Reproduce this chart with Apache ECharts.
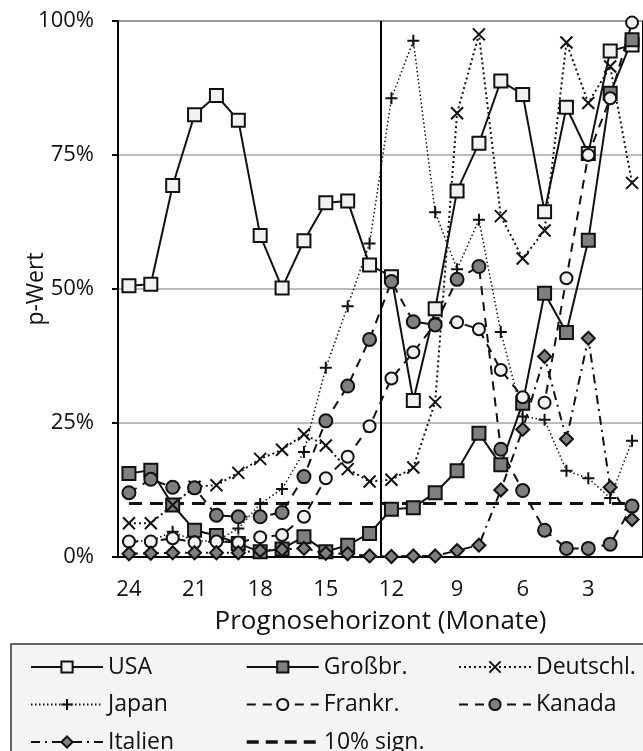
<!DOCTYPE html>
<html>
<head>
<meta charset="utf-8">
<script src="https://cdn.jsdelivr.net/npm/echarts@6/dist/echarts.min.js"></script>
<style>
  html, body { margin: 0; padding: 0; background: #fff; }
  #chart { width: 643px; height: 751px; }
</style>
</head>
<body>
<div id="chart"></div>
<script>
// forecast horizon in months, left to right
var horizons = ['24','23','22','21','20','19','18','17','16','15','14','13',
                '12','11','10','9','8','7','6','5','4','3','2','1'];

// p-values in %
var usa      = [50.6, 50.9, 69.3, 82.5, 86.1, 81.5, 60.0, 50.2, 59.0, 66.1, 66.4, 54.5,
                52.3, 29.2, 46.3, 68.3, 77.2, 88.8, 86.3, 64.4, 83.9, 75.3, 94.4, 95.5];
var grossbr  = [15.6, 16.2, 9.7, 5.0, 4.0, 2.5, 1.0, 1.5, 3.8, 1.0, 2.2, 4.4,
                8.9, 9.2, 12.0, 16.1, 23.1, 17.2, 28.7, 49.2, 41.9, 59.1, 86.5, 96.5];
var deutschl = [6.3, 6.3, 9.7, 13.1, 13.4, 15.7, 18.3, 20.0, 22.9, 20.8, 16.4, 14.1,
                14.4, 16.7, 28.9, 82.8, 97.5, 63.6, 55.7, 60.9, 96.0, 84.7, 91.5, 69.8];
var japan    = [3.0, 3.0, 4.7, 3.0, 3.0, 5.3, 9.9, 12.7, 19.6, 35.3, 46.8, 58.5,
                85.6, 96.3, 64.3, 53.7, 62.9, 42.0, 26.2, 25.6, 16.1, 14.7, 11.0, 21.7];
var frankr   = [2.9, 2.9, 3.5, 2.7, 2.9, 2.7, 3.7, 4.1, 7.5, 14.7, 18.7, 24.4,
                33.3, 38.2, 43.5, 43.8, 42.5, 34.9, 29.8, 28.8, 52.0, 75.0, 85.6, 99.7];
var kanada   = [12.0, 14.5, 13.0, 12.9, 7.8, 7.5, 7.5, 8.3, 15.0, 25.4, 31.9, 40.6,
                51.4, 43.9, 43.3, 51.8, 54.2, 20.1, 12.4, 5.0, 1.6, 1.6, 2.4, 9.5];
var italien  = [0.6, 0.7, 0.8, 0.8, 0.8, 0.8, 1.2, 1.4, 1.6, 0.7, 0.6, 0.2,
                0.1, 0.2, 0.2, 1.2, 2.2, 12.5, 23.8, 37.4, 22.0, 40.8, 13.0, 7.0];
var sign10   = horizons.map(function () { return 10; });

var yTicks = [0, 25, 50, 75, 100];

var FONT = 'Open Sans';
var WHITE = '#f2f2f2', GREY = '#7f7f7f', INK = '#111';
var CROSS = 'path://M0,0L10,10M10,0L0,10';
var PLUS = 'path://M5,0L5,10M0,5L10,5';

function line(name, data, opt) {
    var item;
    if (opt.stroke) item = { color: 'transparent', borderColor: INK, borderWidth: 2 };
    else if (opt.fill) item = { color: opt.fill, borderColor: INK, borderWidth: 2 };
    else item = { color: 'transparent', borderColor: 'transparent', borderWidth: 0 }; // no marker, also in legend
    return {
        name: name,
        type: 'line',
        data: data,
        symbol: opt.symbol,
        symbolSize: opt.size,
        showSymbol: opt.symbol !== 'none',
        animation: false,
        lineStyle: { color: INK, width: opt.width || 2, type: opt.dash || 'solid' },
        itemStyle: item,
        emphasis: { disabled: true }
    };
}

var myChart = echarts.init(document.getElementById('chart'));
myChart.setOption({
    textStyle: { fontFamily: FONT },
    grid: { left: 118, top: 21, width: 533, bottom: 194, show: true, borderColor: '#444', borderWidth: 1.5 },
    xAxis: {
        type: 'category',
        data: horizons,
        boundaryGap: true,
        name: 'Prognosehorizont (Monate)',
        nameLocation: 'middle',
        nameGap: 52,
        nameMoveOverlap: false,
        nameTextStyle: { fontSize: 26, color: '#111', fontFamily: FONT },
        axisLine: { lineStyle: { color: '#000', width: 2 } },
        axisTick: { interval: 5, length: 6, lineStyle: { color: '#000', width: 2 } },
        axisLabel: { interval: 2, margin: 22, fontSize: 22, color: '#111', fontFamily: FONT },
        splitLine: { show: true, interval: 11, lineStyle: { color: '#000', width: 2 } }
    },
    yAxis: {
        type: 'value',
        min: yTicks[0],
        max: yTicks[yTicks.length - 1],
        interval: 25,
        name: 'p-Wert',
        nameLocation: 'middle',
        nameGap: 70,
        nameMoveOverlap: false,
        nameTextStyle: { fontSize: 23, color: '#111', fontFamily: FONT },
        axisLine: { show: true, lineStyle: { color: '#000', width: 2 } },
        axisTick: { show: true, length: 6, lineStyle: { color: '#000', width: 2 } },
        axisLabel: { margin: 24, fontSize: 22, color: '#111', fontFamily: FONT, formatter: '{value}%' },
        splitLine: { lineStyle: { color: '#a6a6a6', width: 1.5 } }
    },
    legend: [
        { data: ['USA', 'Japan', 'Italien'], left: 25 },
        { data: ['Großbr.', 'Frankr.', { name: '10% sign.', lineStyle: { width: 3.5, type: [12, 7] } }], left: 240 },
        { data: ['Deutschl.', 'Kanada'], left: 453 }
    ].map(function (l) {
        return {
            data: l.data, left: l.left, top: 650, height: 200, orient: 'vertical',
            itemWidth: 72, itemHeight: 14, itemGap: 13.5, selectedMode: false,
            textStyle: { fontSize: 23, color: '#111', fontFamily: FONT, lineHeight: 24 }
        };
    }),
    graphic: [{
        type: 'rect', z: -1, silent: true,
        shape: { x: 11, y: 644, width: 660, height: 130 },
        style: { fill: '#f4f4f4', stroke: '#333', lineWidth: 1.5 }
    }],
    series: [
        line('USA', usa, { symbol: 'rect', size: 13, fill: WHITE }),
        line('Großbr.', grossbr, { symbol: 'rect', size: 13, fill: GREY }),
        line('Deutschl.', deutschl, { symbol: CROSS, size: 12, stroke: true, dash: [2, 3], width: 2 }),
        line('Japan', japan, { symbol: PLUS, size: 12, stroke: true, dash: [1.5, 2.5], width: 1.5 }),
        line('Frankr.', frankr, { symbol: 'circle', size: 12, fill: WHITE, dash: [9, 7] }),
        line('Kanada', kanada, { symbol: 'circle', size: 13, fill: GREY, dash: [9, 7] }),
        line('Italien', italien, { symbol: 'diamond', size: 13, fill: GREY, dash: [9, 5, 2, 5] }),
        line('10% sign.', sign10, { symbol: 'none', dash: [13, 8], width: 3 })
    ]
});
</script>
</body>
</html>
